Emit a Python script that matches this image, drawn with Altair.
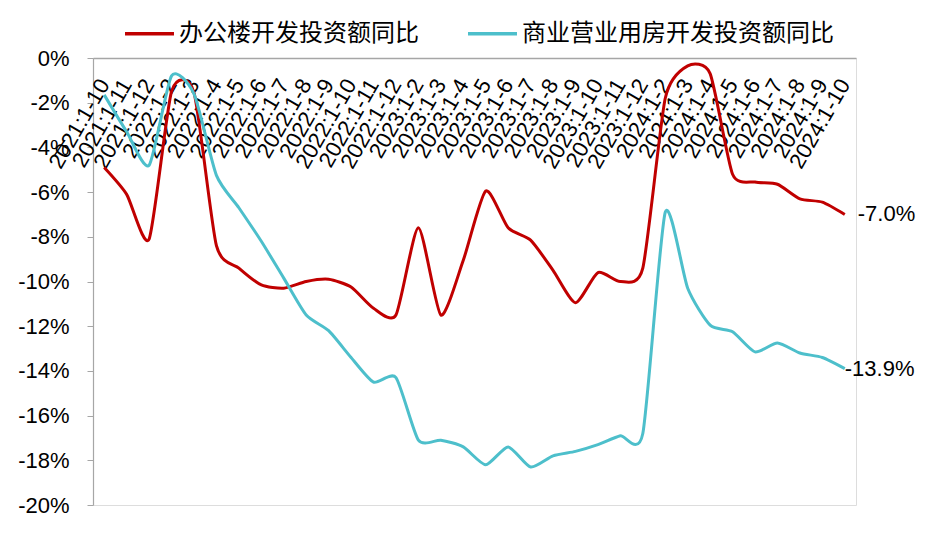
import altair as alt
import pandas as pd

periods = [
    "2021:1-10", "2021:1-11", "2021:1-12",
    "2022:1-2", "2022:1-3", "2022:1-4", "2022:1-5", "2022:1-6", "2022:1-7",
    "2022:1-8", "2022:1-9", "2022:1-10", "2022:1-11", "2022:1-12",
    "2023:1-2", "2023:1-3", "2023:1-4", "2023:1-5", "2023:1-6", "2023:1-7",
    "2023:1-8", "2023:1-9", "2023:1-10", "2023:1-11", "2023:1-12",
    "2024:1-2", "2024:1-3", "2024:1-4", "2024:1-5", "2024:1-6", "2024:1-7",
    "2024:1-8", "2024:1-9", "2024:1-10",
]

office = [
    -4.9, -6.1, -8.1, -1.5, -1.55, -8.4, -9.4, -10.15, -10.3, -10.0,
    -9.9, -10.25, -11.2, -11.5, -7.6, -11.5, -9.05, -5.95, -7.6, -8.15,
    -9.5, -10.95, -9.6, -10.0, -9.4, -1.8, -0.35, -0.7, -5.2, -5.55,
    -5.65, -6.3, -6.45, -7.0,
]

commercial = [
    -1.65, -3.3, -4.8, -0.8, -1.6, -5.25, -6.7, -8.2, -9.85, -11.5,
    -12.2, -13.4, -14.5, -14.3, -17.1, -17.1, -17.4, -18.2, -17.4, -18.3,
    -17.8, -17.6, -17.3, -16.9, -16.8, -6.9, -10.3, -11.95, -12.25, -13.15,
    -12.75, -13.2, -13.4, -13.9,
]

series_names = ["办公楼开发投资额同比", "商业营业用房开发投资额同比"]
series_colors = ["#C00000", "#4DBFCB"]
end_labels = ["-7.0%", "-13.9%"]

rows = []
for i, p in enumerate(periods):
    rows.append({"period": p, "series": series_names[0], "value": office[i], "idx": i})
    rows.append({"period": p, "series": series_names[1], "value": commercial[i], "idx": i})
df = pd.DataFrame(rows)

last = pd.DataFrame({
    "period": [periods[-1], periods[-1]],
    "series": series_names,
    "value": [office[-1], commercial[-1]],
    "label": end_labels,
})

labels_df = pd.DataFrame({"period": periods})

FONT = "Liberation Sans"
CJK = "Noto Sans CJK SC"

xscale = alt.Scale(type="point", domain=periods, padding=0.5)
yscale = alt.Scale(domain=[-20, 0], nice=False, zero=False)

lines = alt.Chart(df).mark_line(strokeWidth=3, interpolate="cardinal", tension=0.35).encode(
    x=alt.X("period:N", scale=xscale, sort=periods,
            axis=alt.Axis(orient="top", labels=False, ticks=False, title=None,
                          domainColor="#A6A6A6", domainWidth=1.5, grid=False)),
    y=alt.Y("value:Q", scale=yscale,
            axis=alt.Axis(values=list(range(-20, 1, 2)), labelExpr="datum.value + '%'",
                          title=None, grid=False, domainColor="#A6A6A6", domainWidth=1.2,
                          tickColor="#A6A6A6", tickSize=6, labelFontSize=22,
                          labelFont=FONT, labelColor="#000000", labelPadding=18)),
    color=alt.Color("series:N",
                    scale=alt.Scale(domain=series_names, range=series_colors),
                    legend=alt.Legend(orient="none", legendX=30, legendY=-51,
                                      direction="horizontal", title=None,
                                      symbolType="stroke", symbolSize=2400,
                                      symbolStrokeWidth=3.5, labelFontSize=24,
                                      labelFont=CJK, labelColor="#000000",
                                      columnPadding=42, labelOffset=3,
                                      labelLimit=400)),
    order="idx:Q",
)

xlabels = alt.Chart(labels_df).mark_text(
    angle=300, align="right", baseline="middle", fontSize=22, font=FONT, color="#000000"
).encode(
    x=alt.X("period:N", scale=xscale, sort=periods),
    y=alt.value(23),
    text="period:N",
)

end1 = alt.Chart(last.iloc[[0]]).mark_text(
    align="left", baseline="middle", dx=13, fontSize=22, font=FONT, color="#000000"
).encode(
    x=alt.X("period:N", scale=xscale, sort=periods),
    y=alt.Y("value:Q", scale=yscale),
    text="label:N",
)

end2 = alt.Chart(last.iloc[[1]]).mark_text(
    align="left", baseline="middle", dx=0, fontSize=22, font=FONT, color="#000000"
).encode(
    x=alt.X("period:N", scale=xscale, sort=periods),
    y=alt.Y("value:Q", scale=yscale),
    text="label:N",
)

chart = alt.layer(xlabels, lines, end1, end2).properties(
    width=763,
    height=447,
    autosize=alt.AutoSizeParams(type="none"),
    padding={"left": 85, "top": 50, "right": 74, "bottom": 26},
).configure_view(stroke=None).configure(background="white")

chart.save("out.html", embed_options={"renderer": "svg", "actions": False})
